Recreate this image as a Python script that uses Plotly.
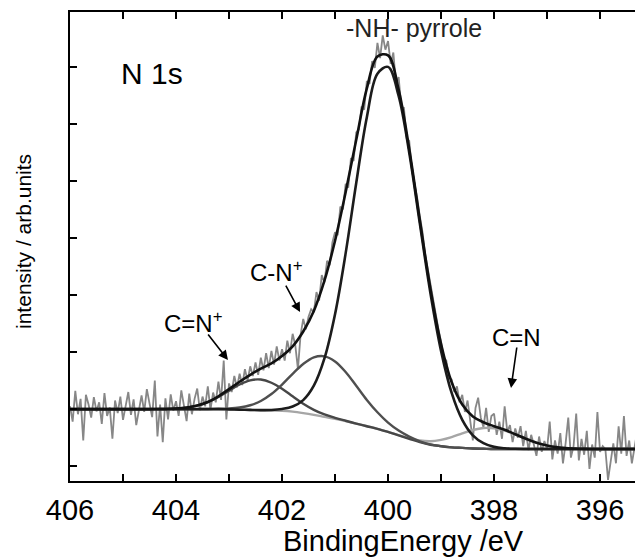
import numpy as np
import plotly.graph_objects as go

# ---------------- data ----------------
# measured spectrum: binding energy 406.00 -> 395.20 eV, step 0.05 eV
data_energy = np.round(np.linspace(406.0, 395.2, 217), 2)
data_intensity = [
    1.05, 0.78, 1.32, 0.91, 1.18, 0.45, 1.25, 1.08, 0.85, 1.21,
    0.96, 1.12, 0.74, 1.28, 0.88, 1.03, 0.48, 1.15, 0.93, 1.22,
    0.81, 1.09, 1.30, 0.90, 1.17, 0.72, 1.02, 1.24, 0.95, 1.35,
    1.10, 0.86, 1.50, 0.52, 1.08, 0.42, 1.19, 0.82, 1.26, 0.97,
    1.14, 0.88, 1.33, 1.02, 0.79, 1.27, 0.91, 1.18, 1.36, 0.98,
    1.22, 1.05, 1.40, 0.99, 1.29, 1.12, 1.48, 1.16, 1.85, 0.82,
    1.45, 1.30, 1.58, 1.38, 1.62, 1.42, 1.70, 1.50, 1.75, 1.58,
    1.82, 1.60, 1.90, 1.68, 1.98, 1.72, 2.02, 1.78, 2.10, 1.85,
    2.05, 1.85, 2.20, 1.98, 2.32, 2.12, 1.70, 2.30, 2.58, 2.40,
    2.62, 2.75, 2.70, 3.05, 2.90, 3.35, 3.22, 3.60, 3.52, 3.92,
    4.10, 4.05, 4.55, 4.50, 4.95, 4.88, 5.40, 5.35, 5.85, 5.90,
    6.30, 6.25, 6.75, 6.70, 7.10, 6.98, 7.42, 7.15, 7.55, 7.30,
    7.45, 7.05, 7.25, 6.70, 6.82, 6.30, 6.28, 5.75, 5.70, 5.20,
    4.98, 4.70, 4.38, 4.10, 3.72, 3.45, 3.18, 2.92, 2.70, 2.40,
    2.18, 1.90, 1.85, 1.55, 1.52, 1.30, 1.40, 1.12, 1.25, 0.95,
    1.15, 0.80, 0.45, 1.02, 1.20, 0.85, 0.68, 1.02, 0.60, 0.88,
    0.92, 0.55, 0.78, 0.48, 1.05, 0.60, 0.72, 0.42, 0.66, 0.50,
    0.70, 0.35, 0.62, 0.28, 0.55, 0.38, 0.18, 0.52, 0.25, 0.44,
    0.30, 0.78, 0.12, 0.45, 0.22, 0.58, 0.05, 0.40, 0.85, 0.15,
    0.35, 0.92, 0.10, 0.48, 0.20, 0.62, -0.05, 0.38, 0.15, 0.95,
    0.25, 0.35, 0.30, -0.24, 0.12, 0.40, 0.05, 0.70, 0.22, 0.88,
    0.18, 0.45, 0.05, 0.35, 0.60, 0.10, 0.32,
]

# fitted curves, sampled every 0.2 eV from 406.0 to 395.2
fit_energy = [
    406.0, 405.8, 405.6, 405.4, 405.2, 405.0, 404.8, 404.6, 404.4, 404.2,
    404.0, 403.8, 403.6, 403.4, 403.2, 403.0, 402.8, 402.6, 402.4, 402.2,
    402.0, 401.8, 401.6, 401.4, 401.2, 401.0, 400.8, 400.6, 400.4, 400.2,
    400.0, 399.8, 399.6, 399.4, 399.2, 399.0, 398.8, 398.6, 398.4, 398.2,
    398.0, 397.8, 397.6, 397.4, 397.2, 397.0, 396.8, 396.6, 396.4, 396.2,
    396.0, 395.8, 395.6, 395.4, 395.2,
]

fit_cn_plus_double = [  # C=N+ (about 402.4 eV)
    1.00, 1.00, 1.00, 1.00, 1.00, 1.00, 1.00, 1.00, 1.00, 1.003,
    1.010, 1.027, 1.061, 1.122, 1.213, 1.323, 1.431, 1.505, 1.518, 1.462,
    1.357, 1.224, 1.094, 0.987, 0.906, 0.847, 0.796, 0.747, 0.70, 0.655,
    0.60, 0.54, 0.48, 0.42, 0.375, 0.35, 0.33, 0.32, 0.31, 0.305,
    0.30, 0.30, 0.30, 0.30, 0.30, 0.30, 0.30, 0.30, 0.30, 0.30,
    0.30, 0.30, 0.30, 0.30, 0.30,
]

fit_cn_plus_single = [  # C-N+ (about 401.2 eV)
    1.00, 1.00, 1.00, 1.00, 1.00, 1.00, 1.00, 1.00, 1.00, 1.00,
    1.00, 1.00, 1.00, 1.002, 1.006, 1.011, 1.028, 1.068, 1.143, 1.264,
    1.431, 1.619, 1.791, 1.906, 1.925, 1.836, 1.651, 1.409, 1.161, 0.944,
    0.763, 0.623, 0.518, 0.436, 0.381, 0.352, 0.33, 0.32, 0.31, 0.305,
    0.30, 0.30, 0.30, 0.30, 0.30, 0.30, 0.30, 0.30, 0.30, 0.30,
    0.30, 0.30, 0.30, 0.30, 0.30,
]

fit_nh_pyrrole = [  # -NH- pyrrole (about 400.0 eV)
    1.00, 1.00, 1.00, 1.00, 1.00, 1.00, 1.00, 1.00, 1.00, 1.00,
    1.00, 1.00, 1.00, 1.00, 1.00, 0.995, 0.990, 0.986, 0.983, 0.985,
    1.003, 1.046, 1.158, 1.411, 1.888, 2.663, 3.729, 4.963, 6.116, 6.878,
    6.998, 6.488, 5.493, 4.253, 3.032, 2.021, 1.283, 0.813, 0.541, 0.403,
    0.338, 0.313, 0.304, 0.301, 0.30, 0.30, 0.30, 0.30, 0.30, 0.30,
    0.30, 0.30, 0.30, 0.30, 0.30,
]

fit_cn_imine = [  # C=N (about 398.1 eV)
    1.00, 1.00, 1.00, 1.00, 1.00, 1.00, 1.00, 1.00, 1.00, 1.00,
    1.00, 1.00, 1.00, 1.00, 1.00, 0.995, 0.99, 0.985, 0.98, 0.975,
    0.97, 0.955, 0.93, 0.90, 0.865, 0.83, 0.79, 0.745, 0.70, 0.655,
    0.602, 0.545, 0.493, 0.45, 0.436, 0.461, 0.509, 0.575, 0.634, 0.669,
    0.664, 0.624, 0.555, 0.479, 0.411, 0.361, 0.33, 0.313, 0.305, 0.302,
    0.30, 0.30, 0.30, 0.30, 0.30,
]

fit_envelope = [  # sum of the fit
    1.00, 1.00, 1.00, 1.00, 1.00, 1.00, 1.00, 1.00, 1.001, 1.003,
    1.010, 1.027, 1.062, 1.125, 1.225, 1.35, 1.48, 1.60, 1.71, 1.80,
    1.93, 2.10, 2.36, 2.72, 3.25, 3.95, 4.80, 5.72, 6.62, 7.18,
    7.20, 6.60, 5.56, 4.31, 3.11, 2.14, 1.47, 1.08, 0.87, 0.77,
    0.70, 0.637, 0.56, 0.48, 0.411, 0.361, 0.33, 0.313, 0.305, 0.302,
    0.30, 0.30, 0.30, 0.30, 0.30,
]

x_tick_values = [396, 397, 398, 399, 400, 401, 402, 403, 404, 405, 406]
x_tick_labels = ["396", "", "398", "", "400", "", "402", "", "404", "", "406"]
y_tick_values = [0, 1, 2, 3, 4, 5, 6, 7]

# ---------------- figure ----------------
FONT = "Liberation Sans, Arial, sans-serif"
fig = go.Figure()

fig.add_trace(go.Scatter(x=data_energy, y=data_intensity, mode="lines",
                         line=dict(color="#878787", width=1.8), hoverinfo="skip"))
fig.add_trace(go.Scatter(x=fit_energy, y=fit_cn_imine, mode="lines",
                         line=dict(color="#a6a6a6", width=2.4, shape="spline")))
fig.add_trace(go.Scatter(x=fit_energy, y=fit_cn_plus_double, mode="lines",
                         line=dict(color="#474747", width=2.4, shape="spline")))
fig.add_trace(go.Scatter(x=fit_energy, y=fit_cn_plus_single, mode="lines",
                         line=dict(color="#4f4f4f", width=2.4, shape="spline")))
fig.add_trace(go.Scatter(x=fit_energy, y=fit_nh_pyrrole, mode="lines",
                         line=dict(color="#1c1c1c", width=2.6, shape="spline")))
fig.add_trace(go.Scatter(x=fit_energy, y=fit_envelope, mode="lines",
                         line=dict(color="#111111", width=2.6, shape="spline")))

annotations = [
    dict(x=404.45, y=6.89, text="N 1s", showarrow=False,
         font=dict(size=30, color="black", family=FONT)),
    dict(x=399.51, y=7.68, text="-NH- pyrrole", showarrow=False,
         font=dict(size=25, color="#222", family=FONT)),
    dict(x=402.64, y=3.42, text="C-N<sup>+</sup>", showarrow=False, xanchor="left",
         font=dict(size=24, color="black", family=FONT)),
    dict(x=404.26, y=2.53, text="C=N<sup>+</sup>", showarrow=False, xanchor="left",
         font=dict(size=24, color="black", family=FONT)),
    dict(x=397.57, y=2.26, text="C=N", showarrow=False,
         font=dict(size=24, color="black", family=FONT)),
    # arrows
    dict(x=403.02, y=1.86, text="", showarrow=True, ax=-21, ay=-27,
         arrowhead=2, arrowsize=1.2, arrowwidth=1.6, arrowcolor="black"),
    dict(x=401.66, y=2.70, text="", showarrow=True, ax=-15, ay=-28,
         arrowhead=2, arrowsize=1.2, arrowwidth=1.6, arrowcolor="black"),
    dict(x=397.68, y=1.37, text="", showarrow=True, ax=6, ay=-42,
         arrowhead=2, arrowsize=1.2, arrowwidth=1.6, arrowcolor="black"),
    # axis titles
    dict(x=399.70, y=-0.128, xref="x", yref="paper", text="BindingEnergy /eV",
         showarrow=False, xanchor="center", yanchor="middle",
         font=dict(size=29, color="black", family=FONT)),
    dict(x=-0.080, y=0.51, xref="paper", yref="paper", text="intensity / arb.units",
         showarrow=False, textangle=-90, xanchor="center", yanchor="middle",
         font=dict(size=21, color="black", family=FONT)),
]

shapes = [
    dict(type="line", xref="paper", yref="y", x0=0.988, x1=1.0, y0=v, y1=v,
         line=dict(color="black", width=1.5))
    for v in (1, 6)
]

# the page body has an 8px margin, so the figure is sized to fit the window
fig.update_layout(
    width=635, height=549, autosize=False,
    margin=dict(l=62, r=0, t=4, b=76),
    paper_bgcolor="white", plot_bgcolor="white",
    showlegend=False,
    annotations=annotations,
    shapes=shapes,
    font=dict(family=FONT, color="black"),
    xaxis=dict(range=[406, 395.19], tickvals=x_tick_values, ticktext=x_tick_labels,
               ticks="inside", ticklen=7, tickwidth=1.5, tickcolor="black",
               showline=True, linecolor="black", linewidth=1.8, mirror="ticks",
               showgrid=False, zeroline=False,
               tickfont=dict(size=29, color="black", family=FONT),
               ticklabelstandoff=2),
    yaxis=dict(range=[-0.26, 7.96], tickvals=y_tick_values, showticklabels=False,
               ticks="inside", ticklen=7, tickwidth=1.5, tickcolor="black",
               showline=True, linecolor="black", linewidth=1.8,
               showgrid=False, zeroline=False),
)

fig.write_html("out.html")
